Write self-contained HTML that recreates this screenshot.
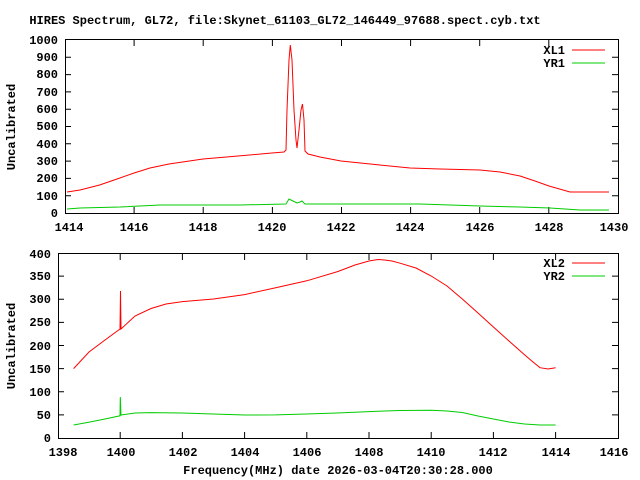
<!DOCTYPE html>
<html><head><style>body{margin:0;background:#fff}svg{display:block}text{font-family:"Liberation Mono","DejaVu Sans Mono",monospace;font-weight:bold;font-size:12px;fill:#000}</style></head><body>
<svg width="640" height="480" viewBox="0 0 640 480" xmlns="http://www.w3.org/2000/svg">
<text x="285" y="24" text-anchor="middle">HIRES Spectrum, GL72, file:Skynet_61103_GL72_146449_97688.spect.cyb.txt</text>
<g stroke="#000" stroke-width="1" fill="none">
<rect x="65.5" y="39.5" width="553" height="174"/>
<path d="M134.1 213v-6M134.1 40v6M203.2 213v-6M203.2 40v6M272.4 213v-6M272.4 40v6M341.5 213v-6M341.5 40v6M410.6 213v-6M410.6 40v6M479.7 213v-6M479.7 40v6M548.8 213v-6M548.8 40v6"/>
<path d="M65 195.7h6M618 195.7h-6M65 178.4h6M618 178.4h-6M65 161.1h6M618 161.1h-6M65 143.8h6M618 143.8h-6M65 126.5h6M618 126.5h-6M65 109.2h6M618 109.2h-6M65 91.9h6M618 91.9h-6M65 74.6h6M618 74.6h-6M65 57.3h6M618 57.3h-6"/>
</g>
<g text-anchor="end">
<text x="58" y="217">0</text><text x="58" y="200">100</text><text x="58" y="182">200</text><text x="58" y="165">300</text><text x="58" y="148">400</text><text x="58" y="130">500</text><text x="58" y="113">600</text><text x="58" y="96">700</text><text x="58" y="78">800</text><text x="58" y="61">900</text><text x="58" y="44">1000</text>
</g>
<g text-anchor="middle">
<text x="69" y="231">1414</text><text x="134" y="231">1416</text><text x="203" y="231">1418</text><text x="272" y="231">1420</text><text x="341" y="231">1422</text><text x="410" y="231">1424</text><text x="480" y="231">1426</text><text x="549" y="231">1428</text><text x="614" y="231">1430</text>
</g>
<text transform="translate(15,127) rotate(-90)" text-anchor="middle">Uncalibrated</text>
<text x="565" y="54" text-anchor="end">XL1</text><line x1="572" y1="50" x2="605" y2="50" stroke="#f00"/>
<text x="565" y="67" text-anchor="end">YR1</text><line x1="572" y1="63" x2="605" y2="63" stroke="#0c0"/>
<polyline fill="none" stroke="#f00" stroke-width="1" points="67,192 80,190 99.6,185 117,179 134,173 150,168 169,164 203,159 238,156 272,153 284,152 286,150 287,110 289,60 290.3,45 292,60 294,110 296,140 297,148 299,130 301,110 302.5,104 304,120 305,151 308,154 320,157 341,161 380,165 410,168 440,169 480,170 500,172 520,176 535,181 549,186 570,192 590,192 609,192"/>
<polyline fill="none" stroke="#0c0" stroke-width="1" points="67,209 80,208 120,207 160,205 200,205 240,205 286,204 289,199 293,201 297,203 300,202 302,201 305,204 340,204 420,204 480,206 520,207 550,208 580,210 609,210"/>
<g stroke="#000" stroke-width="1" fill="none">
<rect x="58.5" y="253.5" width="560" height="185"/>
<path d="M120.2 438v-6M120.2 254v6M182.4 438v-6M182.4 254v6M244.6 438v-6M244.6 254v6M306.8 438v-6M306.8 254v6M369 438v-6M369 254v6M431.2 438v-6M431.2 254v6M493.4 438v-6M493.4 254v6M555.6 438v-6M555.6 254v6"/>
<path d="M58 414.9h6M618 414.9h-6M58 391.8h6M618 391.8h-6M58 368.6h6M618 368.6h-6M58 345.5h6M618 345.5h-6M58 322.4h6M618 322.4h-6M58 299.3h6M618 299.3h-6M58 276.1h6M618 276.1h-6"/>
</g>
<g text-anchor="end">
<text x="51" y="442">0</text><text x="51" y="419">50</text><text x="51" y="396">100</text><text x="51" y="373">150</text><text x="51" y="350">200</text><text x="51" y="326">250</text><text x="51" y="303">300</text><text x="51" y="280">350</text><text x="51" y="258">400</text>
</g>
<g text-anchor="middle">
<text x="63" y="456">1398</text><text x="121" y="456">1400</text><text x="183" y="456">1402</text><text x="245" y="456">1404</text><text x="307" y="456">1406</text><text x="369" y="456">1408</text><text x="431" y="456">1410</text><text x="493" y="456">1412</text><text x="556" y="456">1414</text><text x="614" y="456">1416</text>
</g>
<text transform="translate(15,346) rotate(-90)" text-anchor="middle">Uncalibrated</text>
<text x="338" y="474" text-anchor="middle">Frequency(MHz) date 2026-03-04T20:30:28.000</text>
<text x="565" y="267" text-anchor="end">XL2</text><line x1="572" y1="263" x2="605" y2="263" stroke="#f00"/>
<text x="565" y="280" text-anchor="end">YR2</text><line x1="572" y1="276" x2="605" y2="276" stroke="#0c0"/>
<polyline fill="none" stroke="#f00" stroke-width="1" points="73.6,368.6 89,352 105,340 120,329 120.5,291 121,329 135,316 151,308.5 166,304 182.4,301.6 213.5,299 244.6,294.6 275.7,287.7 306.8,280.8 337.9,271.5 355,265 369,261 378,259.5 384.5,260 392,261 400,263.2 416,268 431.2,276 447,286 462.3,299 478,313 493.4,327 509,341 524.5,354.8 533,362 540,367.7 548,369 555.6,367.7"/>
<polyline fill="none" stroke="#0c0" stroke-width="1" points="73.6,425 90,422 105,419 120,415.8 120.3,397 121,415 135,413 151,412.6 182,413 213,414 245,415 275.7,414.9 306,414 337,413 369,411.6 400,410.5 431.2,410.2 447,411 462.3,412.5 478,416 493.4,419 509,422 524.5,424 540,425 555.6,425"/>
</svg>
</body></html>
